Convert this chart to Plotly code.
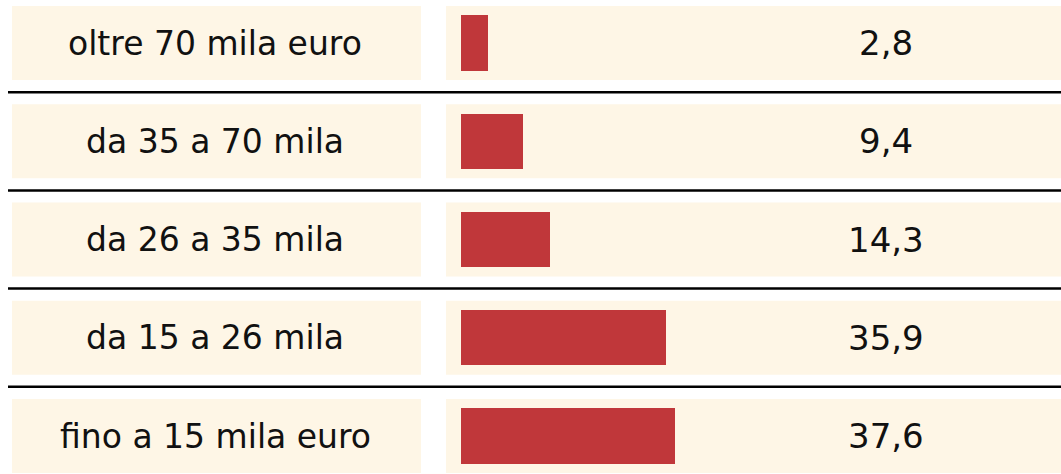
import plotly.graph_objects as go

# ---- data ----
categories = ["oltre 70 mila euro", "da 35 a 70 mila", "da 26 a 35 mila",
              "da 15 a 26 mila", "fino a 15 mila euro"]
values = [2.8, 9.4, 14.3, 35.9, 37.6]
value_labels = ["2,8", "9,4", "14,3", "35,9", "37,6"]

# ---- style ----
W, H = 1061, 474
CREAM = "#FEF6E6"
RED = "#C0373A"
TEXT = "#111111"
BAR_STUB = 2.17          # small visual lead-in of each bar (axis units)
ROW_HALF = 0.3766        # half height of the cream row boxes (row units)

n = len(categories)
rows = list(range(n))

fig = go.Figure()

fig.add_trace(go.Bar(
    y=rows,
    x=[v + BAR_STUB for v in values],
    base=-BAR_STUB,
    orientation="h",
    marker=dict(color=RED, line=dict(width=0)),
    width=0.56,
    hoverinfo="skip",
    showlegend=False,
))

shapes = []
annotations = []
for i, (cat, lab) in enumerate(zip(categories, value_labels)):
    # left label box
    shapes.append(dict(type="rect", xref="paper", yref="y",
                       x0=12 / W, x1=421 / W, y0=i - ROW_HALF, y1=i + ROW_HALF,
                       fillcolor=CREAM, line=dict(width=0), layer="below"))
    # right bar box
    shapes.append(dict(type="rect", xref="paper", yref="y",
                       x0=446 / W, x1=1, y0=i - ROW_HALF, y1=i + ROW_HALF,
                       fillcolor=CREAM, line=dict(width=0), layer="below"))
    annotations.append(dict(xref="paper", yref="y", x=215 / W, y=i, text=cat,
                            showarrow=False, xanchor="center", yanchor="middle",
                            font=dict(family="DejaVu Sans", size=33, color=TEXT)))
    annotations.append(dict(xref="paper", yref="y", x=886 / W, y=i, text=lab,
                            showarrow=False, xanchor="center", yanchor="middle",
                            font=dict(family="DejaVu Sans", size=34, color=TEXT)))

for i in range(n - 1):
    shapes.append(dict(type="line", xref="paper", yref="y",
                       x0=8 / W, x1=1, y0=i + 0.5, y1=i + 0.5,
                       line=dict(color="#000000", width=2.5)))

fig.update_layout(
    width=W, height=H,
    margin=dict(l=0, r=0, t=0, b=0),
    paper_bgcolor="white", plot_bgcolor="rgba(0,0,0,0)",
    shapes=shapes, annotations=annotations,
    xaxis=dict(domain=[446 / W, 1], range=[-4.96, 109.25], visible=False,
               fixedrange=True),
    yaxis=dict(range=[4.3868, -0.4377], visible=False, fixedrange=True),
    bargap=0,
)

fig.write_html("out.html", config={"displayModeBar": False},
               post_script="document.body.style.margin='0';"
                           "document.body.style.overflow='hidden';")
